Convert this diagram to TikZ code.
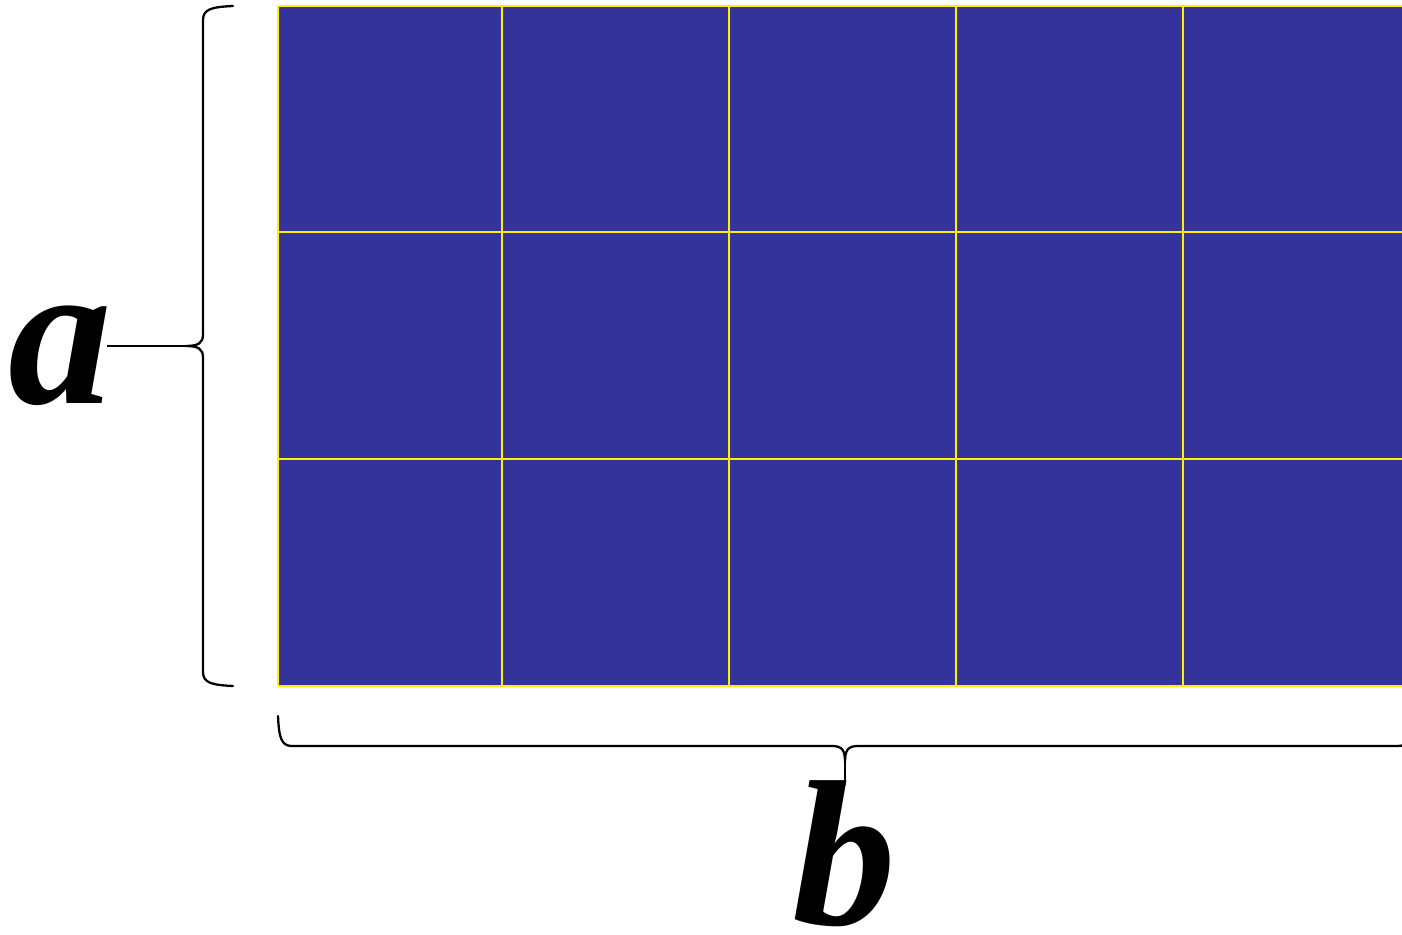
\documentclass[tikz,border=0pt]{standalone}
\usepackage{fontspec}
\setmainfont{Liberation Serif}
\definecolor{gridblue}{RGB}{51,51,153}
\definecolor{gridline}{RGB}{255,240,0}
\begin{document}
\begin{tikzpicture}[x=0.1mm, y=-0.1mm,
    brace/.style={line width=0.65pt, line cap=round},
    lbl/.style={font=\fontsize{59}{59}\selectfont\bfseries\itshape, inner sep=0pt, anchor=base}]
  \useasboundingbox (0,0) rectangle (1402,935);
  \clip (0,0) rectangle (1402,935);

  % blue block with yellow grid
  \fill[gridblue] (278,6) rectangle (1410,686);
  \foreach \x in {278,502,729,956,1183,1410} {
    \draw[gridline, line width=0.6pt] (\x,6) -- (\x,686);
  }
  \foreach \y in {6,232,459,686} {
    \draw[gridline, line width=0.6pt] (278,\y) -- (1410,\y);
  }

  % labels
  \node[lbl] (lblA) at (60,403) {a};
  \node[lbl] (lblB) at (844,924) {b};

  % left brace
  \coordinate (tipA) at (185,346);
  \draw[brace] (233,6) .. controls (212,7) and (203,9) .. (203,20) -- (203,334)
    .. controls (203,343) and (199,346) .. (tipA)
    .. controls (199,346) and (203,349) .. (203,358) -- (203,672)
    .. controls (203,683) and (212,685) .. (233,686);
  \draw[line width=0.5pt] (tipA) -- ([xshift=-0.6mm]lblA.east |- tipA);

  % bottom brace
  \coordinate (tipB) at (845,784);
  \draw[brace] (278,716) .. controls (279,737) and (281,746) .. (292,746) -- (832,746)
    .. controls (842,746) and (845,750) .. (845,762)
    .. controls (845,750) and (848,746) .. (858,746) -- (1398,746)
    .. controls (1409,746) and (1411,737) .. (1412,716);
  \draw[brace] (845,762) -- (tipB);
\end{tikzpicture}
\end{document}
